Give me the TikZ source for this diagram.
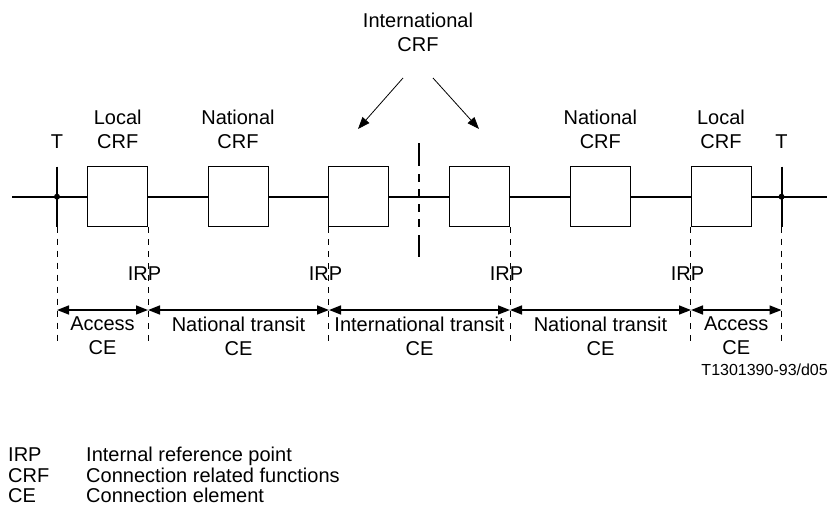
\documentclass[tikz,border=0pt]{standalone}
\usepackage{fontspec}
\setmainfont{Liberation Sans}
\usetikzlibrary{positioning,calc,arrows.meta}
\tikzset{font=\fontsize{20}{24}\selectfont}

\begin{document}
\begin{tikzpicture}[x=1pt,y=-1pt]
	\useasboundingbox (0,0) rectangle (830,511);
	\begin{scope}
		\tikzstyle{every node}=[align=center, inner sep=1pt]
		\tikzstyle{crf}=[draw, line width=0.8pt, fill=white, inner sep=0pt, minimum width=60pt, minimum height=60pt]
		\tikzstyle{irp}=[line width=0.6pt, dash pattern=on 6pt off 6pt]
		\tikzstyle{dim}=[{Triangle[length=12pt,width=9pt]}-{Triangle[length=12pt,width=9pt]}, line width=1.6pt]
		\tikzstyle{ptr}=[-{Triangle[length=12pt,width=9pt]}, line width=0.8pt]
		\tikzstyle{cut}=[line width=2pt, dash pattern=on 23pt off 8pt on 8pt off 7pt on 8pt off 7pt on 8pt off 7pt on 8pt off 8pt on 23pt off 20pt]

		\coordinate (e1) at (12,196.7);
		\coordinate (e2) at (827,196.7);
		\coordinate (t1) at (57,196.7);
		\coordinate (t2) at (781.5,196.7);

		\node[crf] (crf1) at (117.7,196.7) {};
		\node[crf] (crf2) at (238,196.7) {};
		\node[crf] (crf3) at (358.7,196.7) {};
		\node[crf] (crf4) at (479.7,196.7) {};
		\node[crf] (crf5) at (600.3,196.7) {};
		\node[crf] (crf6) at (721,196.7) {};

		\node (lcrf1) [above=16pt of crf1] {Local\\CRF};
		\node (ncrf1) [above=16pt of crf2] {National\\CRF};
		\node (ncrf2) [above=16pt of crf5] {National\\CRF};
		\node (lcrf2) [above=16pt of crf6] {Local\\CRF};
		\node (tl1) at (57,142) {T};
		\node (tl2) at (781.5,142) {T};
		\node (icrf) at (418,32.5) {International\\CRF};

		% main line
		\draw[line width=2pt] (e1) -- (crf1) (crf1) -- (crf2) (crf2) -- (crf3) (crf3) -- (crf4)
			(crf4) -- (crf5) (crf5) -- (crf6) (crf6) -- (e2);
		\draw[line width=2pt] ($(t1)+(0,-30)$) -- ($(t1)+(0,30)$);
		\draw[line width=2pt] ($(t2)+(0,-30)$) -- ($(t2)+(0,30)$);
		\fill (t1) circle (3pt);
		\fill (t2) circle (3pt);

		\coordinate (c1) at (419,143);
		\coordinate (c2) at (419,257);
		\draw[cut] (c1) -- (c2);

		\coordinate (a1) at (403,78);
		\coordinate (b1) at (358,129);
		\coordinate (a2) at (433,78);
		\coordinate (b2) at (479,129);
		\draw[ptr] (a1) -- (b1);
		\draw[ptr] (a2) -- (b2);

		% reference points
		\draw[irp] ($(t1)+(0,30)$) -- ++(0,115);
		\draw[irp] (crf1.south east) -- ++(0,115);
		\draw[irp] (crf3.south west) -- ++(0,115);
		\draw[irp] (crf4.south east) -- ++(0,115);
		\draw[irp] (crf6.south west) -- ++(0,115);
		\draw[irp] ($(t2)+(0,30)$) -- ++(0,115);
		\node (irp1) at (144.5,274) {IRP};
		\node (irp2) at (325.5,274) {IRP};
		\node (irp3) at (506.5,274) {IRP};
		\node (irp4) at (687.5,274) {IRP};

		\coordinate (d0) at (57,310);
		\coordinate (d1) at (148,310);
		\coordinate (d2) at (329,310);
		\coordinate (d3) at (510,310);
		\coordinate (d4) at (691,310);
		\coordinate (d5) at (781.5,310);
		\draw[dim] (d0) -- node[below=5pt] {Access\\CE} (d1);
		\draw[dim] (d1) -- node[below=5pt] {National transit\\CE} (d2);
		\draw[dim] (d2) -- node[below=5pt] {International transit\\CE} (d3);
		\draw[dim] (d3) -- node[below=5pt] {National transit\\CE} (d4);
		\draw[dim] (d4) -- node[below=5pt] {Access\\CE} (d5);

		\node[anchor=east, font=\fontsize{16}{19}\selectfont] (fig) at (829,370) {T1301390-93/d05};

		% legend
		\node[anchor=base west] (kirp) at (7,461) {IRP};
		\node[anchor=base west] (kcrf) at (7,482) {CRF};
		\node[anchor=base west] (kce) at (7,502) {CE};
		\node[anchor=base west] (tirp) at (85,461) {Internal reference point};
		\node[anchor=base west] (tcrf) at (85,482) {Connection related functions};
		\node[anchor=base west] (tce) at (85,502) {Connection element};
	\end{scope}
\end{tikzpicture}
\end{document}
